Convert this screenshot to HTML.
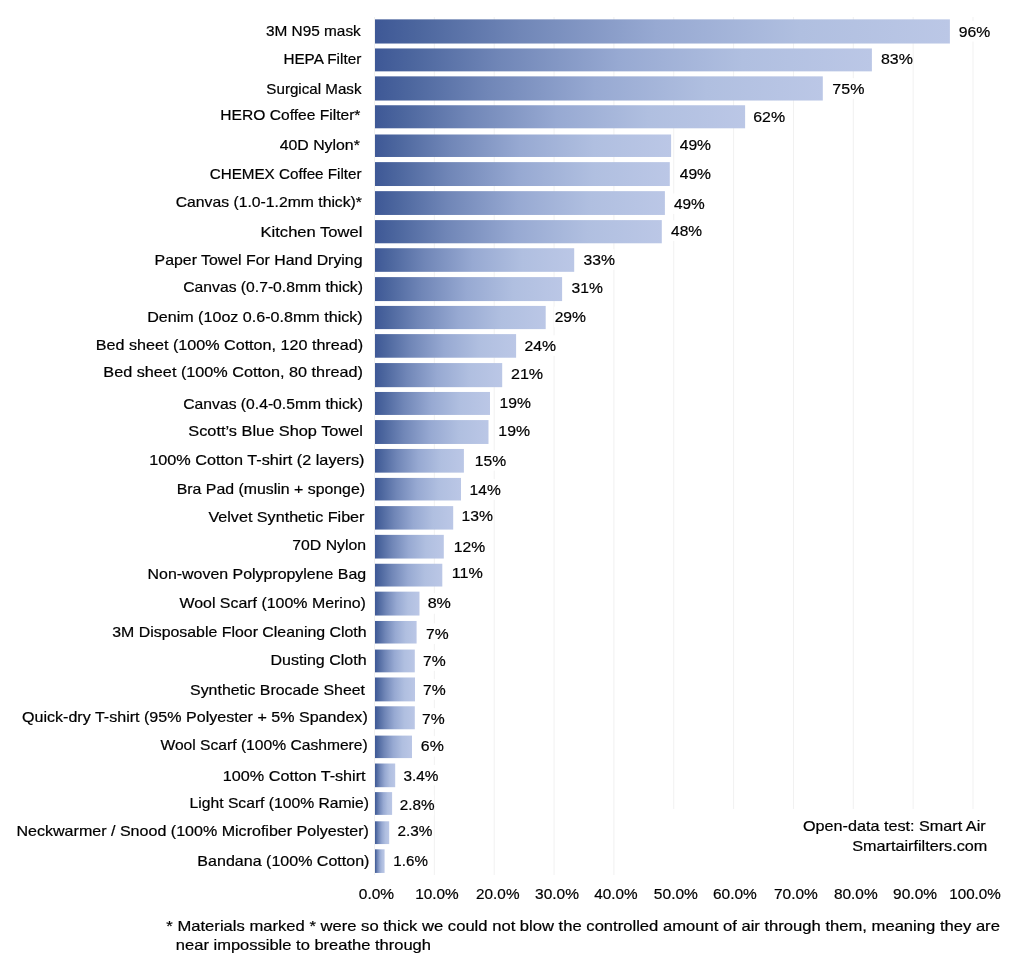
<!DOCTYPE html>
<html><head><meta charset="utf-8"><style>
html,body{margin:0;padding:0;background:#fff;}
body{width:1010px;height:964px;overflow:hidden;}
svg{display:block;will-change:transform;}
text{font-family:"Liberation Sans",sans-serif;font-size:14.6px;fill:#000;stroke:#000;stroke-width:0.2px;}
</style></head><body>
<svg width="1010" height="964" viewBox="0 0 1010 964">
<defs><linearGradient id="g" x1="0" y1="0" x2="1" y2="0">
<stop offset="0" stop-color="#3e5896"/>
<stop offset="0.075" stop-color="#4c669e"/>
<stop offset="0.25" stop-color="#7086b7"/>
<stop offset="0.49" stop-color="#97a9d2"/>
<stop offset="0.74" stop-color="#b0bfe0"/>
<stop offset="1" stop-color="#bbc7e6"/>
</linearGradient></defs>
<rect width="1010" height="964" fill="#fff"/>
<rect x="374.00" y="17" width="1" height="858" fill="#f1f1f1"/>
<rect x="433.85" y="17" width="1" height="858" fill="#f1f1f1"/>
<rect x="493.70" y="17" width="1" height="858" fill="#f1f1f1"/>
<rect x="553.55" y="17" width="1" height="858" fill="#f1f1f1"/>
<rect x="613.40" y="17" width="1" height="858" fill="#f1f1f1"/>
<rect x="673.25" y="17" width="1" height="792" fill="#f1f1f1"/>
<rect x="733.10" y="17" width="1" height="792" fill="#f1f1f1"/>
<rect x="792.95" y="17" width="1" height="792" fill="#f1f1f1"/>
<rect x="852.80" y="17" width="1" height="792" fill="#f1f1f1"/>
<rect x="912.65" y="17" width="1" height="792" fill="#f1f1f1"/>
<rect x="972.50" y="17" width="1" height="792" fill="#f1f1f1"/>
<rect x="958.40" y="21.10" width="31.20" height="20.5" fill="#fff"/>
<rect x="880.50" y="49.20" width="31.80" height="20.5" fill="#fff"/>
<rect x="832.00" y="78.20" width="31.80" height="20.5" fill="#fff"/>
<rect x="753.00" y="106.20" width="31.40" height="20.5" fill="#fff"/>
<rect x="679.00" y="134.20" width="31.70" height="20.5" fill="#fff"/>
<rect x="679.00" y="163.40" width="31.70" height="20.5" fill="#fff"/>
<rect x="673.10" y="193.50" width="31.30" height="20.5" fill="#fff"/>
<rect x="670.30" y="220.40" width="31.20" height="20.5" fill="#fff"/>
<rect x="583.10" y="249.30" width="31.40" height="20.5" fill="#fff"/>
<rect x="571.20" y="278.30" width="31.10" height="20.5" fill="#fff"/>
<rect x="554.20" y="306.70" width="31.40" height="20.5" fill="#fff"/>
<rect x="524.10" y="335.30" width="31.40" height="20.5" fill="#fff"/>
<rect x="510.80" y="364.20" width="31.70" height="20.5" fill="#fff"/>
<rect x="499.70" y="392.20" width="30.80" height="20.5" fill="#fff"/>
<rect x="498.50" y="420.90" width="30.90" height="20.5" fill="#fff"/>
<rect x="475.00" y="450.10" width="30.50" height="20.5" fill="#fff"/>
<rect x="469.80" y="479.20" width="30.40" height="20.5" fill="#fff"/>
<rect x="461.60" y="506.00" width="30.90" height="20.5" fill="#fff"/>
<rect x="453.90" y="535.80" width="30.80" height="20.5" fill="#fff"/>
<rect x="451.90" y="563.00" width="30.40" height="20.5" fill="#fff"/>
<rect x="427.20" y="593.20" width="23.10" height="20.5" fill="#fff"/>
<rect x="425.50" y="623.40" width="22.50" height="20.5" fill="#fff"/>
<rect x="422.80" y="650.30" width="22.50" height="20.5" fill="#fff"/>
<rect x="422.80" y="679.20" width="22.50" height="20.5" fill="#fff"/>
<rect x="421.60" y="708.20" width="22.50" height="20.5" fill="#fff"/>
<rect x="420.50" y="736.10" width="22.70" height="20.5" fill="#fff"/>
<rect x="403.10" y="765.00" width="35.00" height="20.5" fill="#fff"/>
<rect x="399.30" y="795.00" width="34.80" height="20.5" fill="#fff"/>
<rect x="397.10" y="820.80" width="35.00" height="20.5" fill="#fff"/>
<rect x="393.30" y="850.40" width="34.00" height="20.5" fill="#fff"/>
<rect x="375.0" y="19.36" width="574.90" height="24.17" fill="url(#g)"/>
<text x="265.94" y="35.95" textLength="94.88" lengthAdjust="spacingAndGlyphs">3M N95 mask</text>
<text x="958.67" y="36.59" textLength="31.53" lengthAdjust="spacingAndGlyphs">96%</text>
<rect x="375.0" y="48.45" width="496.90" height="22.91" fill="url(#g)"/>
<text x="283.40" y="64.42" textLength="77.84" lengthAdjust="spacingAndGlyphs">HEPA Filter</text>
<text x="880.97" y="64.32" textLength="31.91" lengthAdjust="spacingAndGlyphs">83%</text>
<rect x="375.0" y="76.36" width="447.80" height="24.17" fill="url(#g)"/>
<text x="266.39" y="94.24" textLength="95.11" lengthAdjust="spacingAndGlyphs">Surgical Mask</text>
<text x="832.35" y="93.94" textLength="32.04" lengthAdjust="spacingAndGlyphs">75%</text>
<rect x="375.0" y="105.25" width="370.10" height="23.05" fill="url(#g)"/>
<text x="220.32" y="120.47" textLength="140.14" lengthAdjust="spacingAndGlyphs">HERO Coffee Filter*</text>
<text x="753.18" y="121.57" textLength="31.88" lengthAdjust="spacingAndGlyphs">62%</text>
<rect x="375.0" y="134.49" width="296.10" height="22.49" fill="url(#g)"/>
<text x="279.66" y="150.39" textLength="80.20" lengthAdjust="spacingAndGlyphs">40D Nylon*</text>
<text x="679.70" y="150.19" textLength="31.31" lengthAdjust="spacingAndGlyphs">49%</text>
<rect x="375.0" y="162.12" width="294.80" height="23.89" fill="url(#g)"/>
<text x="209.66" y="178.52" textLength="151.97" lengthAdjust="spacingAndGlyphs">CHEMEX Coffee Filter</text>
<text x="679.70" y="179.02" textLength="31.31" lengthAdjust="spacingAndGlyphs">49%</text>
<rect x="375.0" y="191.14" width="289.90" height="23.82" fill="url(#g)"/>
<text x="175.73" y="206.55" textLength="186.26" lengthAdjust="spacingAndGlyphs">Canvas (1.0-1.2mm thick)*</text>
<text x="673.93" y="208.75" textLength="30.80" lengthAdjust="spacingAndGlyphs">49%</text>
<rect x="375.0" y="220.10" width="286.80" height="23.19" fill="url(#g)"/>
<text x="260.54" y="237.17" textLength="101.89" lengthAdjust="spacingAndGlyphs">Kitchen Towel</text>
<text x="671.06" y="236.27" textLength="30.96" lengthAdjust="spacingAndGlyphs">48%</text>
<rect x="375.0" y="248.22" width="199.20" height="23.61" fill="url(#g)"/>
<text x="154.55" y="264.60" textLength="207.98" lengthAdjust="spacingAndGlyphs">Paper Towel For Hand Drying</text>
<text x="583.52" y="264.80" textLength="31.47" lengthAdjust="spacingAndGlyphs">33%</text>
<rect x="375.0" y="277.11" width="187.10" height="23.96" fill="url(#g)"/>
<text x="183.28" y="292.22" textLength="179.68" lengthAdjust="spacingAndGlyphs">Canvas (0.7-0.8mm thick)</text>
<text x="571.59" y="293.42" textLength="31.26" lengthAdjust="spacingAndGlyphs">31%</text>
<rect x="375.0" y="305.92" width="170.70" height="23.19" fill="url(#g)"/>
<text x="147.16" y="322.15" textLength="215.51" lengthAdjust="spacingAndGlyphs">Denim (10oz 0.6-0.8mm thick)</text>
<text x="554.66" y="322.45" textLength="31.33" lengthAdjust="spacingAndGlyphs">29%</text>
<rect x="375.0" y="334.11" width="141.10" height="23.61" fill="url(#g)"/>
<text x="95.77" y="350.48" textLength="267.26" lengthAdjust="spacingAndGlyphs">Bed sheet (100% Cotton, 120 thread)</text>
<text x="524.47" y="350.68" textLength="31.56" lengthAdjust="spacingAndGlyphs">24%</text>
<rect x="375.0" y="363.07" width="127.20" height="24.10" fill="url(#g)"/>
<text x="103.38" y="377.20" textLength="259.55" lengthAdjust="spacingAndGlyphs">Bed sheet (100% Cotton, 80 thread)</text>
<text x="510.99" y="379.20" textLength="32.14" lengthAdjust="spacingAndGlyphs">21%</text>
<rect x="375.0" y="391.96" width="115.00" height="22.98" fill="url(#g)"/>
<text x="183.28" y="408.63" textLength="179.68" lengthAdjust="spacingAndGlyphs">Canvas (0.4-0.5mm thick)</text>
<text x="499.57" y="407.83" textLength="31.33" lengthAdjust="spacingAndGlyphs">19%</text>
<rect x="375.0" y="420.08" width="113.50" height="23.89" fill="url(#g)"/>
<text x="188.27" y="436.35" textLength="174.66" lengthAdjust="spacingAndGlyphs">Scott’s Blue Shop Towel</text>
<text x="498.34" y="436.15" textLength="31.68" lengthAdjust="spacingAndGlyphs">19%</text>
<rect x="375.0" y="448.96" width="88.90" height="23.68" fill="url(#g)"/>
<text x="149.19" y="464.58" textLength="215.28" lengthAdjust="spacingAndGlyphs">100% Cotton T-shirt (2 layers)</text>
<text x="474.80" y="465.98" textLength="31.34" lengthAdjust="spacingAndGlyphs">15%</text>
<rect x="375.0" y="477.92" width="86.00" height="22.56" fill="url(#g)"/>
<text x="176.76" y="493.61" textLength="188.31" lengthAdjust="spacingAndGlyphs">Bra Pad (muslin + sponge)</text>
<text x="469.63" y="494.71" textLength="31.11" lengthAdjust="spacingAndGlyphs">14%</text>
<rect x="375.0" y="506.11" width="78.20" height="23.47" fill="url(#g)"/>
<text x="208.41" y="521.83" textLength="156.07" lengthAdjust="spacingAndGlyphs">Velvet Synthetic Fiber</text>
<text x="461.51" y="521.13" textLength="31.43" lengthAdjust="spacingAndGlyphs">13%</text>
<rect x="375.0" y="534.86" width="68.80" height="23.68" fill="url(#g)"/>
<text x="292.25" y="550.16" textLength="73.78" lengthAdjust="spacingAndGlyphs">70D Nylon</text>
<text x="453.75" y="551.56" textLength="31.38" lengthAdjust="spacingAndGlyphs">12%</text>
<rect x="375.0" y="563.75" width="67.30" height="22.77" fill="url(#g)"/>
<text x="147.60" y="579.48" textLength="218.56" lengthAdjust="spacingAndGlyphs">Non-woven Polypropylene Bag</text>
<text x="451.75" y="578.38" textLength="31.07" lengthAdjust="spacingAndGlyphs">11%</text>
<rect x="375.0" y="591.65" width="44.50" height="23.89" fill="url(#g)"/>
<text x="179.45" y="607.91" textLength="186.47" lengthAdjust="spacingAndGlyphs">Wool Scarf (100% Merino)</text>
<text x="427.67" y="608.21" textLength="23.24" lengthAdjust="spacingAndGlyphs">8%</text>
<rect x="375.0" y="620.96" width="41.60" height="22.56" fill="url(#g)"/>
<text x="112.19" y="636.74" textLength="254.43" lengthAdjust="spacingAndGlyphs">3M Disposable Floor Cleaning Cloth</text>
<text x="426.00" y="639.04" textLength="22.59" lengthAdjust="spacingAndGlyphs">7%</text>
<rect x="375.0" y="649.57" width="39.80" height="22.77" fill="url(#g)"/>
<text x="270.49" y="665.36" textLength="96.06" lengthAdjust="spacingAndGlyphs">Dusting Cloth</text>
<text x="423.10" y="665.56" textLength="22.68" lengthAdjust="spacingAndGlyphs">7%</text>
<rect x="375.0" y="677.48" width="40.00" height="23.89" fill="url(#g)"/>
<text x="190.09" y="694.79" textLength="174.93" lengthAdjust="spacingAndGlyphs">Synthetic Brocade Sheet</text>
<text x="423.10" y="695.09" textLength="22.68" lengthAdjust="spacingAndGlyphs">7%</text>
<rect x="375.0" y="706.29" width="39.80" height="22.98" fill="url(#g)"/>
<text x="22.01" y="722.41" textLength="345.74" lengthAdjust="spacingAndGlyphs">Quick-dry T-shirt (95% Polyester + 5% Spandex)</text>
<text x="421.98" y="723.71" textLength="22.66" lengthAdjust="spacingAndGlyphs">7%</text>
<rect x="375.0" y="735.60" width="37.00" height="22.49" fill="url(#g)"/>
<text x="160.46" y="750.34" textLength="207.26" lengthAdjust="spacingAndGlyphs">Wool Scarf (100% Cashmere)</text>
<text x="420.86" y="751.24" textLength="22.96" lengthAdjust="spacingAndGlyphs">6%</text>
<rect x="375.0" y="763.51" width="20.20" height="23.68" fill="url(#g)"/>
<text x="222.84" y="780.67" textLength="142.79" lengthAdjust="spacingAndGlyphs">100% Cotton T-shirt</text>
<text x="403.55" y="780.77" textLength="34.97" lengthAdjust="spacingAndGlyphs">3.4%</text>
<rect x="375.0" y="792.12" width="17.10" height="22.77" fill="url(#g)"/>
<text x="189.54" y="807.59" textLength="179.48" lengthAdjust="spacingAndGlyphs">Light Scarf (100% Ramie)</text>
<text x="399.78" y="810.39" textLength="34.84" lengthAdjust="spacingAndGlyphs">2.8%</text>
<rect x="375.0" y="821.29" width="14.20" height="22.77" fill="url(#g)"/>
<text x="16.44" y="836.22" textLength="352.45" lengthAdjust="spacingAndGlyphs">Neckwarmer / Snood (100% Microfiber Polyester)</text>
<text x="397.51" y="835.82" textLength="34.98" lengthAdjust="spacingAndGlyphs">2.3%</text>
<rect x="375.0" y="849.33" width="9.60" height="23.61" fill="url(#g)"/>
<text x="197.39" y="866.34" textLength="172.10" lengthAdjust="spacingAndGlyphs">Bandana (100% Cotton)</text>
<text x="393.39" y="866.04" textLength="34.48" lengthAdjust="spacingAndGlyphs">1.6%</text>
<text x="358.85" y="898.7" textLength="35.28" lengthAdjust="spacingAndGlyphs">0.0%</text>
<text x="415.24" y="898.7" textLength="43.55" lengthAdjust="spacingAndGlyphs">10.0%</text>
<text x="476.11" y="898.7" textLength="43.38" lengthAdjust="spacingAndGlyphs">20.0%</text>
<text x="535.05" y="898.7" textLength="43.88" lengthAdjust="spacingAndGlyphs">30.0%</text>
<text x="594.31" y="898.7" textLength="43.38" lengthAdjust="spacingAndGlyphs">40.0%</text>
<text x="653.87" y="898.7" textLength="44.04" lengthAdjust="spacingAndGlyphs">50.0%</text>
<text x="712.98" y="898.7" textLength="43.87" lengthAdjust="spacingAndGlyphs">60.0%</text>
<text x="774.03" y="898.7" textLength="43.87" lengthAdjust="spacingAndGlyphs">70.0%</text>
<text x="833.90" y="898.7" textLength="43.76" lengthAdjust="spacingAndGlyphs">80.0%</text>
<text x="893.13" y="898.7" textLength="43.89" lengthAdjust="spacingAndGlyphs">90.0%</text>
<text x="949.27" y="898.7" textLength="51.46" lengthAdjust="spacingAndGlyphs">100.0%</text>
<text x="802.96" y="831.2" textLength="182.71" lengthAdjust="spacingAndGlyphs">Open-data test: Smart Air</text>
<text x="852.32" y="850.5" textLength="135.01" lengthAdjust="spacingAndGlyphs">Smartairfilters.com</text>
<text x="166.37" y="930.8" textLength="833.53" lengthAdjust="spacingAndGlyphs">* Materials marked * were so thick we could not blow the controlled amount of air through them, meaning they are</text>
<text x="175.87" y="949.8" textLength="255.13" lengthAdjust="spacingAndGlyphs">near impossible to breathe through</text>
</svg>
</body></html>
